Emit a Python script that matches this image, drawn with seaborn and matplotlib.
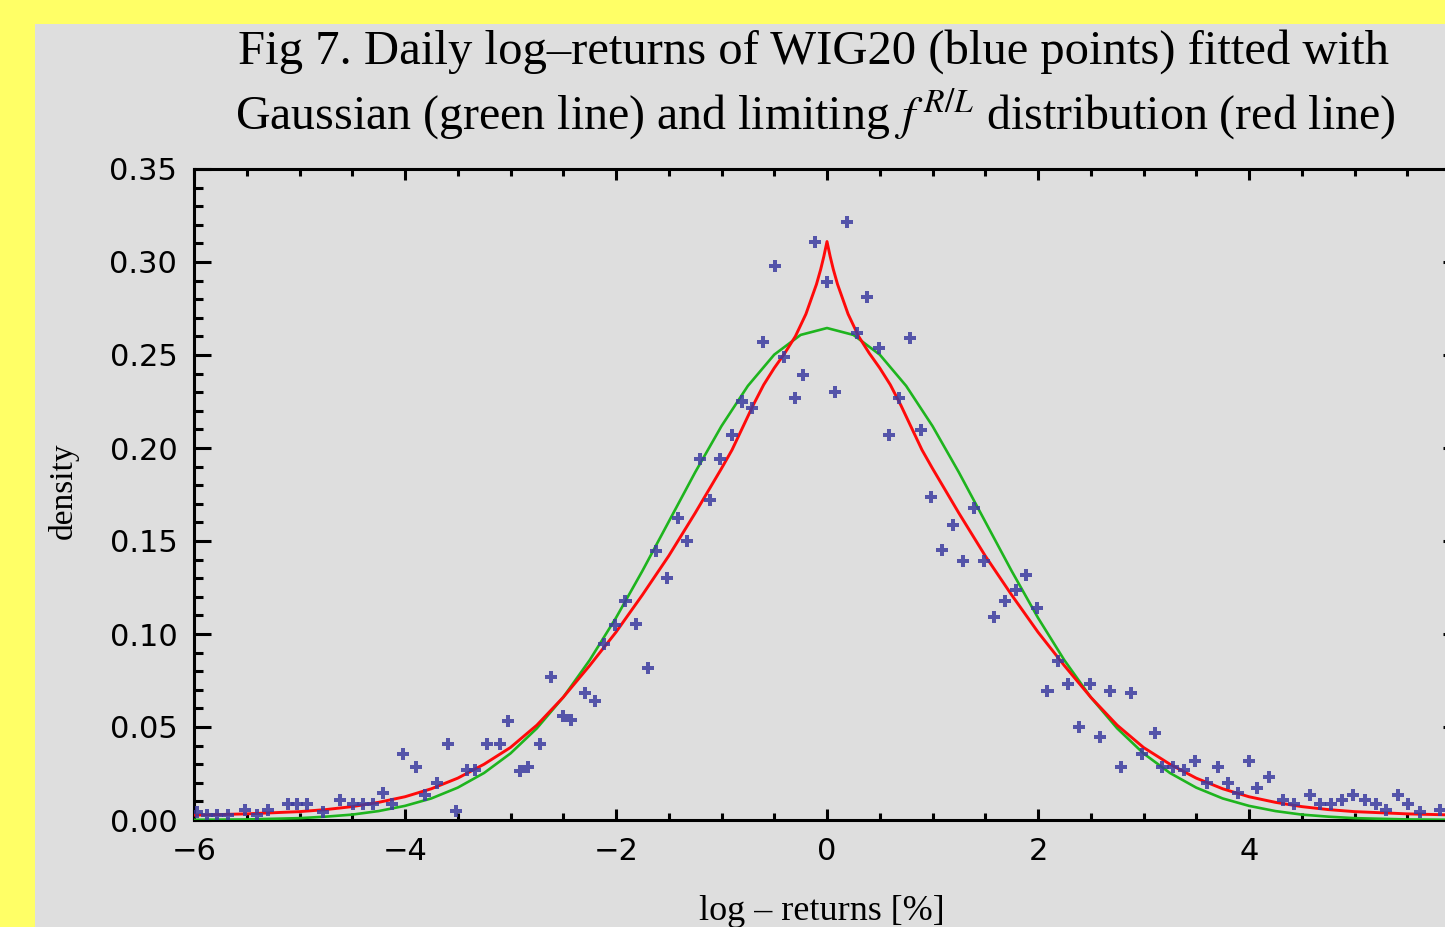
import numpy as np
import pandas as pd
import matplotlib
matplotlib.use("Agg")
import matplotlib.pyplot as plt
from matplotlib.patches import Rectangle
from matplotlib.ticker import MultipleLocator, FormatStrFormatter, FuncFormatter
import seaborn as sns

# Histogram of daily log-returns (%) of WIG20
ret_x = [-5.97, -5.88, -5.78, -5.68, -5.52, -5.40, -5.30, -5.11, -5.02, -4.93, -4.78, -4.62,
         -4.49, -4.40, -4.30, -4.21, -4.12, -4.02, -3.90, -3.81, -3.70, -3.59, -3.52,
         -3.41, -3.34, -3.22, -3.10, -3.02, -2.91, -2.83, -2.72, -2.62, -2.50, -2.43,
         -2.29, -2.20, -2.11, -2.01, -1.91, -1.81, -1.70, -1.62, -1.52, -1.41, -1.33,
         -1.20, -1.11, -1.01, -0.90, -0.81, -0.71, -0.61, -0.49, -0.41, -0.30, -0.23,
         -0.11, 0.00, 0.08, 0.19, 0.28, 0.38, 0.49, 0.59, 0.68, 0.79, 0.89, 0.99,
         1.09, 1.19, 1.29, 1.39, 1.49, 1.58, 1.69, 1.79, 1.89, 1.99, 2.09, 2.19,
         2.28, 2.39, 2.49, 2.59, 2.68, 2.79, 2.88, 2.99, 3.11, 3.18, 3.28, 3.38,
         3.49, 3.60, 3.71, 3.80, 3.90, 4.00, 4.08, 4.19, 4.32, 4.43, 4.58, 4.67,
         4.78, 4.88, 4.99, 5.10, 5.20, 5.30, 5.41, 5.51, 5.62, 5.81]
ret_density = [0.0043, 0.0027, 0.0027, 0.0027, 0.0054, 0.0027, 0.0054, 0.0086, 0.0086, 0.0086,
               0.0043, 0.0108, 0.0086, 0.0086, 0.0086, 0.0145, 0.0086, 0.0355, 0.0285,
               0.0134, 0.0199, 0.0409, 0.0048, 0.0269, 0.0269, 0.0409, 0.0409, 0.0532,
               0.0263, 0.0285, 0.0410, 0.0769, 0.0559, 0.0538, 0.0683, 0.0640, 0.0946,
               0.1048, 0.1177, 0.1054, 0.0817, 0.1446, 0.1301, 0.1624, 0.1500, 0.1940,
               0.1720, 0.1940, 0.2070, 0.2250, 0.2215, 0.2570, 0.2980, 0.2490, 0.2270,
               0.2390, 0.3110, 0.2890, 0.2300, 0.3215, 0.2620, 0.2810, 0.2540, 0.2070,
               0.2270, 0.2590, 0.2097, 0.1737, 0.1450, 0.1586, 0.1390, 0.1677, 0.1390,
               0.1090, 0.1177, 0.1237, 0.1317, 0.1140, 0.0694, 0.0855, 0.0731, 0.0500,
               0.0731, 0.0446, 0.0694, 0.0285, 0.0683, 0.0355, 0.0468, 0.0285, 0.0285,
               0.0269, 0.0317, 0.0199, 0.0285, 0.0199, 0.0145, 0.0317, 0.0172, 0.0231,
               0.0108, 0.0086, 0.0134, 0.0086, 0.0086, 0.0108, 0.0134, 0.0108, 0.0086,
               0.0054, 0.0134, 0.0086, 0.0043, 0.0054]

# Fitted Gaussian density (green line), tabulated at 0.25 steps
gauss_x = [-6.0, -5.5, -5.0, -4.75, -4.5, -4.25, -4.0, -3.75, -3.5, -3.25, -3.0, -2.75,
           -2.5, -2.25, -2.0, -1.75, -1.5, -1.25, -1.0, -0.75, -0.5, -0.25, 0.0,
           0.25, 0.5, 0.75, 1.0, 1.25, 1.5, 1.75, 2.0, 2.25, 2.5, 2.75, 3.0, 3.25,
           3.5, 3.75, 4.0, 4.25, 4.5, 4.75, 5.0, 5.5, 6.0]
gauss_y = [0.0001, 0.0003, 0.0010, 0.0018, 0.0029, 0.0048, 0.0076, 0.0116, 0.0174, 0.0253,
           0.0358, 0.0493, 0.0660, 0.0859, 0.1087, 0.1339, 0.1604, 0.1869, 0.2118, 0.2334,
           0.2502, 0.2608, 0.2645, 0.2608, 0.2502, 0.2334, 0.2118, 0.1869, 0.1604, 0.1339,
           0.1087, 0.0859, 0.0660, 0.0493, 0.0358, 0.0253, 0.0174, 0.0116, 0.0076, 0.0048,
           0.0029, 0.0018, 0.0010, 0.0003, 0.0001]

# Limiting f^{R/L} density (red line), symmetric with a cusp at zero
frl_pos_x = [0.0, 0.03, 0.06, 0.1, 0.15, 0.2, 0.3, 0.4, 0.5, 0.6, 0.7, 0.8, 0.9, 1.0,
             1.25, 1.5, 1.75, 2.0, 2.25, 2.5, 2.75, 3.0, 3.25, 3.5, 3.75, 4.0, 4.25,
             4.5, 4.75, 5.0, 5.5, 6.0]
frl_pos_y = [0.311, 0.303, 0.296, 0.288, 0.280, 0.272, 0.260, 0.251, 0.243, 0.234, 0.223,
             0.211, 0.199, 0.189, 0.165, 0.142, 0.121, 0.101, 0.083, 0.066, 0.051, 0.039,
             0.030, 0.0225, 0.0168, 0.0125, 0.0095, 0.0072, 0.0056, 0.0045, 0.0033, 0.0026]
frl_x = [-v for v in frl_pos_x[:0:-1]] + frl_pos_x
frl_y = frl_pos_y[:0:-1] + frl_pos_y

# Labelled x ticks
x_tick_labels = {-6: "\u22126", -4: "\u22124", -2: "\u22122", 0: "0", 2: "2", 4: "4"}

YELLOW = "#FFFF66"
PANEL = "#DEDEDE"

sns.set_style("ticks")
plt.rcParams["font.family"] = ["DejaVu Sans"]
plt.rcParams["mathtext.fontset"] = "stix"
plt.rcParams["text.color"] = "black"
plt.rcParams["xtick.color"] = "black"
plt.rcParams["ytick.color"] = "black"

W, H = 1445, 927
fig = plt.figure(figsize=(W / 100, H / 100), dpi=100, facecolor=YELLOW)
fig.patches.append(Rectangle((35 / W, 0), 1 - 35 / W, 1 - 24 / H, transform=fig.transFigure,
                             facecolor=PANEL, edgecolor="none", zorder=-10))

x0, x1 = 194, 827 + 6 * 105.5
ax = fig.add_axes([x0 / W, 1 - 820 / H, (x1 - x0) / W, (820 - 169) / H])
ax.set_facecolor(PANEL)
ax.set_zorder(1)

pts = pd.DataFrame({"ret": ret_x, "density": ret_density})
gauss = pd.DataFrame({"ret": gauss_x, "density": gauss_y})
frl = pd.DataFrame({"ret": frl_x, "density": frl_y})

sns.lineplot(data=gauss, x="ret", y="density", ax=ax, color="#1EB41E", lw=1.9, zorder=3)
sns.lineplot(data=frl, x="ret", y="density", ax=ax, color="#FF0A0A", lw=2.1, zorder=4)
sns.scatterplot(data=pts, x="ret", y="density", ax=ax, marker="P", s=75,
                color="#3C3CA0", edgecolor="none", alpha=0.85, zorder=5)

ax.set_xlim(-6, 6)
ax.set_ylim(0, 0.35)
ax.xaxis.set_major_locator(MultipleLocator(2))
ax.xaxis.set_minor_locator(MultipleLocator(0.5))
ax.yaxis.set_major_locator(MultipleLocator(0.05))
ax.yaxis.set_minor_locator(MultipleLocator(0.01))
ax.yaxis.set_major_formatter(FormatStrFormatter("%.2f"))
ax.xaxis.set_major_formatter(FuncFormatter(lambda v, p: x_tick_labels.get(int(round(v)), "")))

for s in ax.spines.values():
    s.set_linewidth(2.2)
    s.set_color("black")
ax.tick_params(which="both", direction="in", top=True, right=True, width=2.2,
               color="black", labelsize=22, pad=12)
ax.tick_params(axis="x", which="major", length=8)
ax.tick_params(axis="x", which="minor", length=5)
ax.tick_params(axis="y", which="major", length=12)
ax.tick_params(axis="y", which="minor", length=6.5)

ax.set_xlabel("")
ax.set_ylabel("")

serif = ["Liberation Serif", "DejaVu Serif"]
fig.text(814 / W, 1 - 52 / H, "Fig 7. Daily log\u2013returns of WIG20 (blue points) fitted with",
         ha="center", va="center", fontsize=35, family=serif)
fig.text(815 / W, 1 - 115 / H,
         r"Gaussian (green line) and limiting $f^{\,R/L}$ distribution (red line)",
         ha="center", va="center", fontsize=34.5, family=serif)
fig.text(822 / W, 1 - 912 / H, "log \u2013 returns [%]", ha="center", va="center",
         fontsize=26, family=serif)
fig.text(63 / W, 1 - 491 / H, "density", ha="center", va="center", rotation=90,
         fontsize=24, family=serif)

fig.savefig("out.png", dpi=100, facecolor=YELLOW)
